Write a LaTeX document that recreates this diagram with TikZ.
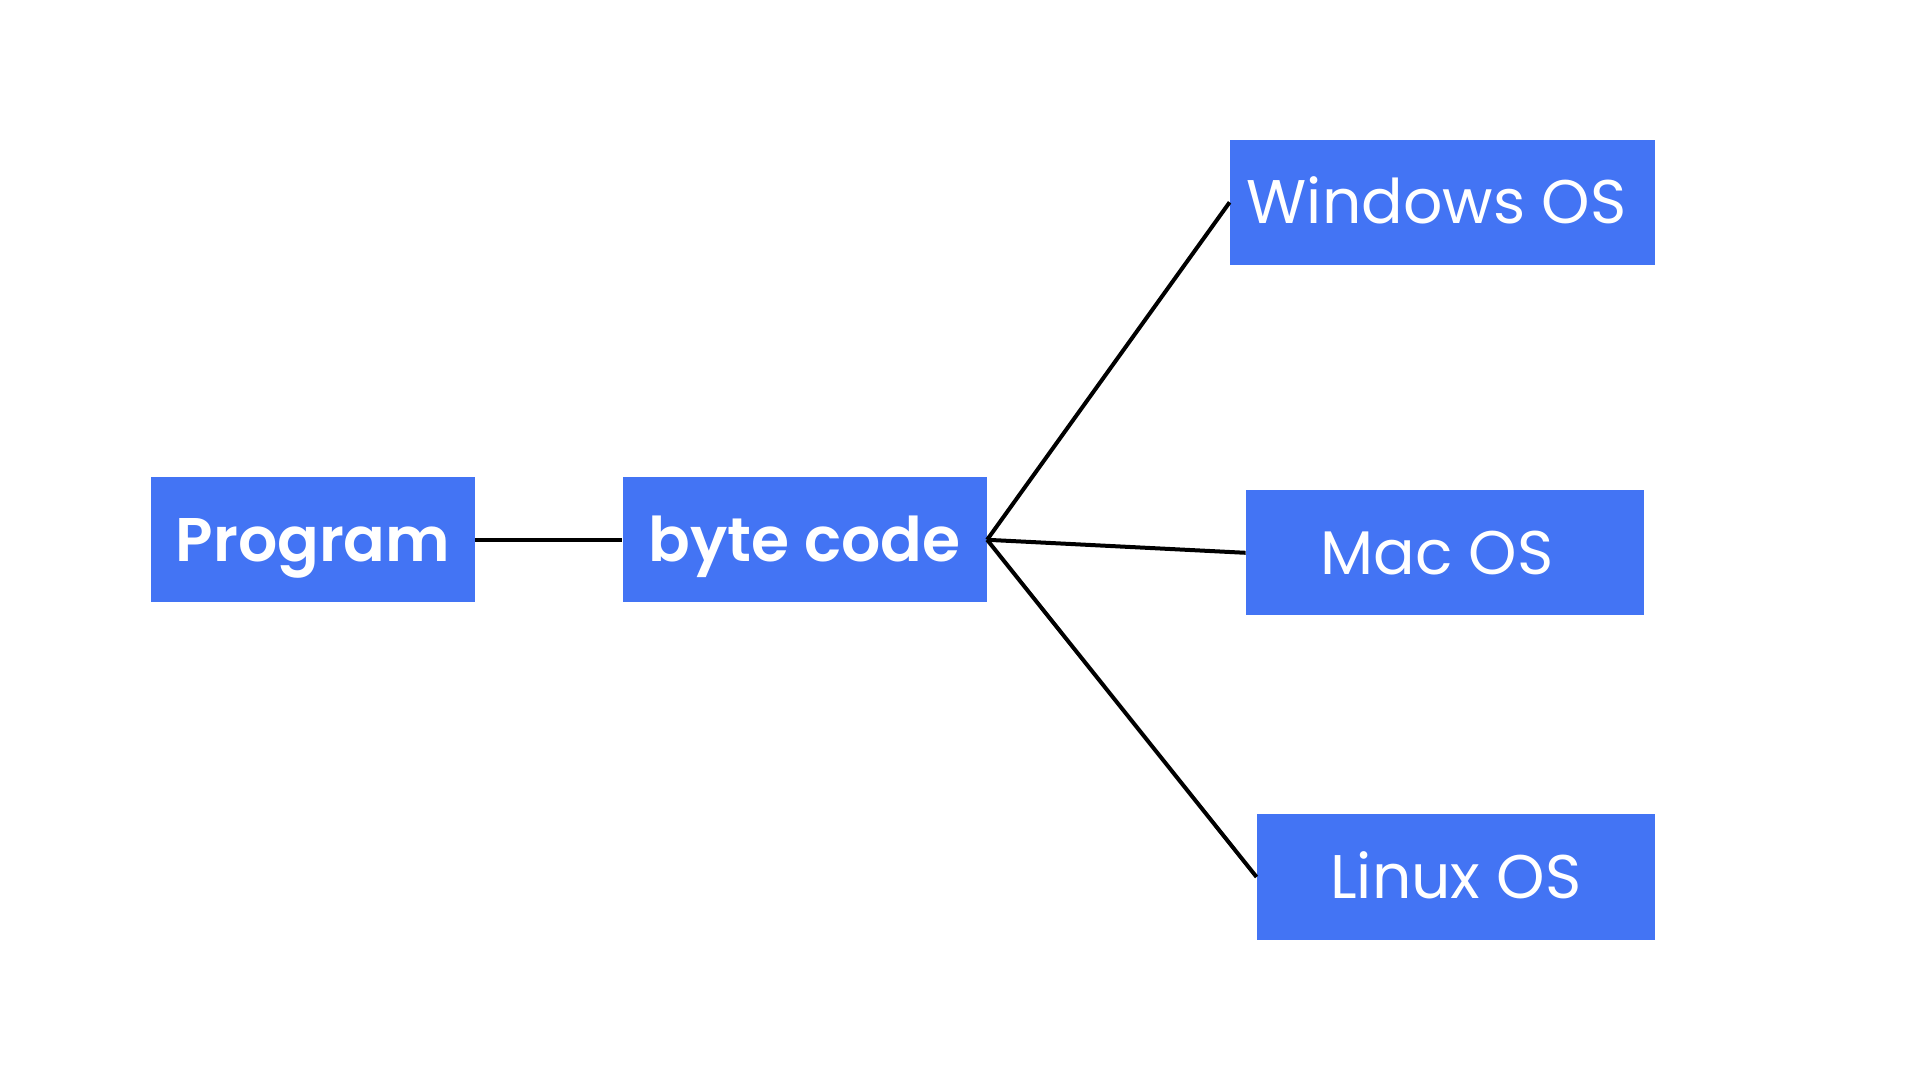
\documentclass[tikz,border=0pt]{standalone}
\usepackage{fontspec}
\setmainfont{Poppins}
\newfontfamily\popsemi{Poppins SemiBold}
\definecolor{boxblue}{HTML}{4374F4}
\tikzset{
  box/.style={fill=boxblue, draw=none, minimum height=62.5pt, inner sep=0pt},
  lbl/.style={text=white, font=\fontsize{30.8pt}{36pt}\selectfont, text height=21.45pt, text depth=0pt, inner sep=0pt},
  lblb/.style={lbl, font=\fontsize{30.8pt}{36pt}\popsemi},
  conn/.style={draw=black, line width=2pt}
}
\begin{document}
\begin{tikzpicture}[x=0.5pt,y=-0.5pt]
\useasboundingbox[fill=white] (0,0) rectangle (1920,1080);
\node[box, minimum width=161.7pt] (prog) at (313,539.8) {};
\node[box, minimum width=182pt] (byte) at (804.7,539.8) {};
\node[box, minimum width=212.5pt, minimum height=62.35pt] (win) at (1442.5,202.3) {};
\node[box, minimum width=199pt] (mac) at (1445,552.8) {};
\node[box, minimum width=198.85pt, minimum height=62.7pt] (lin) at (1455.8,877) {};
\node[lblb] (progt) at (prog) {Program};
\node[lblb] (bytet) at (byte) {byte code};
\node[lbl] (wint) at ([xshift=-3pt]win.center) {Windows OS};
\node[lbl] (mact) at ([xshift=-4pt]mac.center) {Mac OS};
\node[lbl] (lint) at (lin) {Linux OS};
\draw[conn] (prog.east) -- (byte.west);
\draw[conn] (byte.east) -- (win.west);
\draw[conn] (byte.east) -- (mac.west);
\draw[conn] (byte.east) -- (lin.west);
\end{tikzpicture}
\end{document}
